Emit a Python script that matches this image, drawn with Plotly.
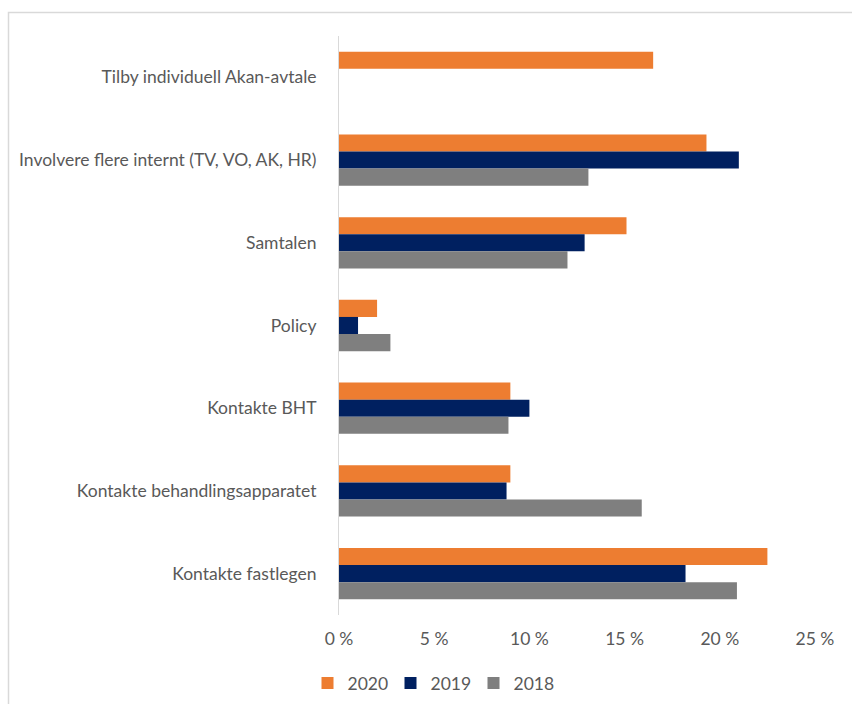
import plotly.graph_objects as go

# Tiltak, listed top to bottom
categories = [
    "Tilby individuell Akan-avtale",
    "Involvere flere internt (TV, VO, AK, HR)",
    "Samtalen",
    "Policy",
    "Kontakte BHT",
    "Kontakte behandlingsapparatet",
    "Kontakte fastlegen",
]

# Share of respondents (%) per year
values_2020 = [16.5, 19.3, 15.1, 2.0, 9.0, 9.0, 22.5]
values_2019 = [None, 21.0, 12.9, 1.0, 10.0, 8.8, 18.2]
values_2018 = [None, 13.1, 12.0, 2.7, 8.9, 15.9, 20.9]

x_ticks = [0, 5, 10, 15, 20, 25]
x_tick_labels = ["0 %", "5 %", "10 %", "15 %", "20 %", "25 %"]

series = [
    ("2020", values_2020, "#ED7D31"),
    ("2019", values_2019, "#002060"),
    ("2018", values_2018, "#7F7F7F"),
]

W, H = 852, 704
ML, MR, MT, MB = 339, 37, 36, 89
TEXT = "#595959"
FONT = "Lato"
FS = 17.5

fig = go.Figure()
for name, vals, color in series:
    fig.add_trace(go.Bar(
        y=categories, x=vals, name=name, orientation="h",
        marker=dict(color=color, line=dict(width=0)),
    ))

plot_w = W - ML - MR
plot_h = H - MT - MB

def px_x(p):
    return (p - ML) / plot_w

def px_y(p):
    return (H - MB - p) / plot_h

fig.update_layout(
    width=W, height=H,
    margin=dict(l=ML, r=MR, t=MT, b=MB, autoexpand=False),
    paper_bgcolor="white", plot_bgcolor="white",
    barmode="group", bargap=0.38, bargroupgap=0,
    font=dict(family=FONT, size=FS, color=TEXT),
    showlegend=True,
    legend=dict(
        orientation="h", x=px_x(432), xanchor="center",
        y=px_y(683), yanchor="middle",
        font=dict(family=FONT, size=FS, color=TEXT),
        itemwidth=30, entrywidth=38, traceorder="normal",
    ),
    xaxis=dict(
        range=[0, 25], tickvals=x_ticks, ticktext=x_tick_labels,
        showgrid=False, zeroline=False, showline=False,
        ticks="", ticklabelstandoff=11,
        tickfont=dict(family=FONT, size=FS, color=TEXT),
        fixedrange=True,
    ),
    yaxis=dict(
        autorange="reversed", showgrid=False, zeroline=False,
        showline=True, linecolor="#D9D9D9", linewidth=1,
        ticks="", ticklabelstandoff=18,
        tickfont=dict(family=FONT, size=FS, color=TEXT),
        fixedrange=True,
    ),
    shapes=[
        # chart frame (top and left edges visible)
        dict(type="rect", xref="paper", yref="paper",
             x0=px_x(8.5), x1=px_x(870), y0=px_y(720), y1=px_y(12.5),
             line=dict(color="#D9D9D9", width=1.5), layer="below"),
    ],
)

fig.write_html("out.html")
